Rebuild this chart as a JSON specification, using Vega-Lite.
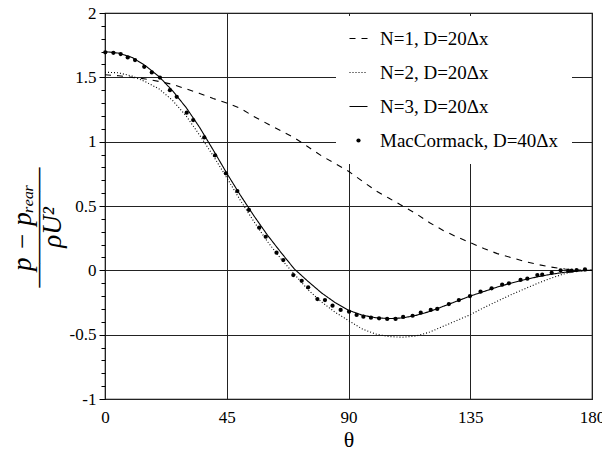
{
  "$schema": "https://vega.github.io/schema/vega-lite/v6.json",
  "width": 487,
  "height": 386,
  "autosize": "none",
  "padding": {"left": 105, "top": 13, "right": 10, "bottom": 59},
  "background": "white",
  "config": {"view": {"stroke": "black", "strokeWidth": 1.2}, "font": "Liberation Serif"},
  "datasets": {
    "curves": [
      {"theta": 0, "p": 1.52, "series": "N=1, D=20Δx"},
      {"theta": 5, "p": 1.512, "series": "N=1, D=20Δx"},
      {"theta": 10, "p": 1.5, "series": "N=1, D=20Δx"},
      {"theta": 15, "p": 1.487, "series": "N=1, D=20Δx"},
      {"theta": 20, "p": 1.468, "series": "N=1, D=20Δx"},
      {"theta": 25, "p": 1.445, "series": "N=1, D=20Δx"},
      {"theta": 30, "p": 1.41, "series": "N=1, D=20Δx"},
      {"theta": 35, "p": 1.375, "series": "N=1, D=20Δx"},
      {"theta": 40, "p": 1.335, "series": "N=1, D=20Δx"},
      {"theta": 45, "p": 1.3, "series": "N=1, D=20Δx"},
      {"theta": 50, "p": 1.26, "series": "N=1, D=20Δx"},
      {"theta": 55, "p": 1.195, "series": "N=1, D=20Δx"},
      {"theta": 60, "p": 1.14, "series": "N=1, D=20Δx"},
      {"theta": 65, "p": 1.085, "series": "N=1, D=20Δx"},
      {"theta": 70, "p": 1.03, "series": "N=1, D=20Δx"},
      {"theta": 75, "p": 0.96, "series": "N=1, D=20Δx"},
      {"theta": 80, "p": 0.89, "series": "N=1, D=20Δx"},
      {"theta": 85, "p": 0.83, "series": "N=1, D=20Δx"},
      {"theta": 90, "p": 0.77, "series": "N=1, D=20Δx"},
      {"theta": 95, "p": 0.695, "series": "N=1, D=20Δx"},
      {"theta": 100, "p": 0.62, "series": "N=1, D=20Δx"},
      {"theta": 105, "p": 0.56, "series": "N=1, D=20Δx"},
      {"theta": 110, "p": 0.5, "series": "N=1, D=20Δx"},
      {"theta": 115, "p": 0.44, "series": "N=1, D=20Δx"},
      {"theta": 120, "p": 0.37, "series": "N=1, D=20Δx"},
      {"theta": 125, "p": 0.31, "series": "N=1, D=20Δx"},
      {"theta": 130, "p": 0.26, "series": "N=1, D=20Δx"},
      {"theta": 135, "p": 0.215, "series": "N=1, D=20Δx"},
      {"theta": 140, "p": 0.17, "series": "N=1, D=20Δx"},
      {"theta": 145, "p": 0.13, "series": "N=1, D=20Δx"},
      {"theta": 150, "p": 0.1, "series": "N=1, D=20Δx"},
      {"theta": 155, "p": 0.07, "series": "N=1, D=20Δx"},
      {"theta": 160, "p": 0.045, "series": "N=1, D=20Δx"},
      {"theta": 165, "p": 0.025, "series": "N=1, D=20Δx"},
      {"theta": 170, "p": 0.01, "series": "N=1, D=20Δx"},
      {"theta": 175, "p": 0.003, "series": "N=1, D=20Δx"},
      {"theta": 180, "p": 0, "series": "N=1, D=20Δx"},
      {"theta": 0, "p": 1.54, "series": "N=2, D=20Δx"},
      {"theta": 5, "p": 1.535, "series": "N=2, D=20Δx"},
      {"theta": 10, "p": 1.51, "series": "N=2, D=20Δx"},
      {"theta": 15, "p": 1.465, "series": "N=2, D=20Δx"},
      {"theta": 20, "p": 1.41, "series": "N=2, D=20Δx"},
      {"theta": 25, "p": 1.32, "series": "N=2, D=20Δx"},
      {"theta": 30, "p": 1.2, "series": "N=2, D=20Δx"},
      {"theta": 35, "p": 1.05, "series": "N=2, D=20Δx"},
      {"theta": 40, "p": 0.89, "series": "N=2, D=20Δx"},
      {"theta": 45, "p": 0.72, "series": "N=2, D=20Δx"},
      {"theta": 50, "p": 0.545, "series": "N=2, D=20Δx"},
      {"theta": 55, "p": 0.38, "series": "N=2, D=20Δx"},
      {"theta": 60, "p": 0.225, "series": "N=2, D=20Δx"},
      {"theta": 65, "p": 0.09, "series": "N=2, D=20Δx"},
      {"theta": 70, "p": -0.03, "series": "N=2, D=20Δx"},
      {"theta": 75, "p": -0.15, "series": "N=2, D=20Δx"},
      {"theta": 80, "p": -0.245, "series": "N=2, D=20Δx"},
      {"theta": 85, "p": -0.325, "series": "N=2, D=20Δx"},
      {"theta": 90, "p": -0.39, "series": "N=2, D=20Δx"},
      {"theta": 95, "p": -0.455, "series": "N=2, D=20Δx"},
      {"theta": 100, "p": -0.495, "series": "N=2, D=20Δx"},
      {"theta": 105, "p": -0.515, "series": "N=2, D=20Δx"},
      {"theta": 110, "p": -0.52, "series": "N=2, D=20Δx"},
      {"theta": 115, "p": -0.51, "series": "N=2, D=20Δx"},
      {"theta": 120, "p": -0.48, "series": "N=2, D=20Δx"},
      {"theta": 125, "p": -0.435, "series": "N=2, D=20Δx"},
      {"theta": 130, "p": -0.39, "series": "N=2, D=20Δx"},
      {"theta": 135, "p": -0.345, "series": "N=2, D=20Δx"},
      {"theta": 140, "p": -0.29, "series": "N=2, D=20Δx"},
      {"theta": 145, "p": -0.24, "series": "N=2, D=20Δx"},
      {"theta": 150, "p": -0.19, "series": "N=2, D=20Δx"},
      {"theta": 155, "p": -0.145, "series": "N=2, D=20Δx"},
      {"theta": 160, "p": -0.1, "series": "N=2, D=20Δx"},
      {"theta": 165, "p": -0.06, "series": "N=2, D=20Δx"},
      {"theta": 170, "p": -0.025, "series": "N=2, D=20Δx"},
      {"theta": 175, "p": -0.005, "series": "N=2, D=20Δx"},
      {"theta": 180, "p": 0, "series": "N=2, D=20Δx"},
      {"theta": 0, "p": 1.7, "series": "N=3, D=20Δx"},
      {"theta": 5, "p": 1.688, "series": "N=3, D=20Δx"},
      {"theta": 10, "p": 1.655, "series": "N=3, D=20Δx"},
      {"theta": 15, "p": 1.59, "series": "N=3, D=20Δx"},
      {"theta": 20, "p": 1.505, "series": "N=3, D=20Δx"},
      {"theta": 25, "p": 1.395, "series": "N=3, D=20Δx"},
      {"theta": 30, "p": 1.265, "series": "N=3, D=20Δx"},
      {"theta": 35, "p": 1.11, "series": "N=3, D=20Δx"},
      {"theta": 40, "p": 0.935, "series": "N=3, D=20Δx"},
      {"theta": 45, "p": 0.755, "series": "N=3, D=20Δx"},
      {"theta": 50, "p": 0.585, "series": "N=3, D=20Δx"},
      {"theta": 55, "p": 0.425, "series": "N=3, D=20Δx"},
      {"theta": 60, "p": 0.275, "series": "N=3, D=20Δx"},
      {"theta": 65, "p": 0.14, "series": "N=3, D=20Δx"},
      {"theta": 70, "p": 0.01, "series": "N=3, D=20Δx"},
      {"theta": 75, "p": -0.085, "series": "N=3, D=20Δx"},
      {"theta": 80, "p": -0.175, "series": "N=3, D=20Δx"},
      {"theta": 85, "p": -0.25, "series": "N=3, D=20Δx"},
      {"theta": 90, "p": -0.31, "series": "N=3, D=20Δx"},
      {"theta": 95, "p": -0.348, "series": "N=3, D=20Δx"},
      {"theta": 100, "p": -0.368, "series": "N=3, D=20Δx"},
      {"theta": 105, "p": -0.375, "series": "N=3, D=20Δx"},
      {"theta": 110, "p": -0.37, "series": "N=3, D=20Δx"},
      {"theta": 115, "p": -0.35, "series": "N=3, D=20Δx"},
      {"theta": 120, "p": -0.32, "series": "N=3, D=20Δx"},
      {"theta": 125, "p": -0.28, "series": "N=3, D=20Δx"},
      {"theta": 130, "p": -0.24, "series": "N=3, D=20Δx"},
      {"theta": 135, "p": -0.2, "series": "N=3, D=20Δx"},
      {"theta": 140, "p": -0.165, "series": "N=3, D=20Δx"},
      {"theta": 145, "p": -0.13, "series": "N=3, D=20Δx"},
      {"theta": 150, "p": -0.1, "series": "N=3, D=20Δx"},
      {"theta": 155, "p": -0.073, "series": "N=3, D=20Δx"},
      {"theta": 160, "p": -0.05, "series": "N=3, D=20Δx"},
      {"theta": 165, "p": -0.03, "series": "N=3, D=20Δx"},
      {"theta": 170, "p": -0.015, "series": "N=3, D=20Δx"},
      {"theta": 175, "p": -0.005, "series": "N=3, D=20Δx"},
      {"theta": 180, "p": 0, "series": "N=3, D=20Δx"}
    ],
    "mac": [
      {"theta": 0.1, "p": 1.694}, {"theta": 3.1, "p": 1.691}, {"theta": 5.8, "p": 1.681},
      {"theta": 8.4, "p": 1.655}, {"theta": 11.1, "p": 1.634}, {"theta": 14.5, "p": 1.582},
      {"theta": 17.3, "p": 1.538}, {"theta": 20.3, "p": 1.498}, {"theta": 24.0, "p": 1.4},
      {"theta": 26.5, "p": 1.349}, {"theta": 30.2, "p": 1.225}, {"theta": 32.6, "p": 1.168},
      {"theta": 36.7, "p": 1.033}, {"theta": 40.7, "p": 0.894}, {"theta": 44.7, "p": 0.754},
      {"theta": 48.9, "p": 0.616}, {"theta": 53.2, "p": 0.469}, {"theta": 57.0, "p": 0.331},
      {"theta": 59.4, "p": 0.261}, {"theta": 63.4, "p": 0.137}, {"theta": 65.9, "p": 0.08},
      {"theta": 69.6, "p": -0.037}, {"theta": 72.7, "p": -0.081}, {"theta": 75.1, "p": -0.132},
      {"theta": 78.5, "p": -0.223}, {"theta": 81.3, "p": -0.231}, {"theta": 84.1, "p": -0.275},
      {"theta": 87.1, "p": -0.308}, {"theta": 90.2, "p": -0.321}, {"theta": 93.0, "p": -0.347},
      {"theta": 95.5, "p": -0.36}, {"theta": 98.3, "p": -0.368}, {"theta": 101.3, "p": -0.373},
      {"theta": 104.3, "p": -0.378}, {"theta": 107.4, "p": -0.378}, {"theta": 110.2, "p": -0.362},
      {"theta": 113.7, "p": -0.353}, {"theta": 116.7, "p": -0.329}, {"theta": 120.4, "p": -0.308},
      {"theta": 122.8, "p": -0.3}, {"theta": 127.1, "p": -0.262}, {"theta": 130.8, "p": -0.231},
      {"theta": 134.9, "p": -0.2}, {"theta": 138.8, "p": -0.166}, {"theta": 142.9, "p": -0.14},
      {"theta": 146.8, "p": -0.112}, {"theta": 149.3, "p": -0.101}, {"theta": 153.6, "p": -0.075},
      {"theta": 156.1, "p": -0.065}, {"theta": 159.8, "p": -0.037}, {"theta": 161.6, "p": -0.034},
      {"theta": 165.1, "p": -0.019}, {"theta": 168.4, "p": 0.0}, {"theta": 171.2, "p": -0.005},
      {"theta": 172.5, "p": -0.003}, {"theta": 174.3, "p": 0.002}, {"theta": 177.4, "p": 0.008}
    ]
  },
  "resolve": {"axis": {"y": "independent"}},
  "layer": [
    {
      "data": {"name": "curves"},
      "mark": {"type": "line", "color": "black", "strokeWidth": 1.1},
      "encoding": {
        "x": {
          "field": "theta", "type": "quantitative",
          "scale": {"domain": [0, 180], "nice": false, "zero": false},
          "axis": {
            "values": [0, 45, 90, 135, 180],
            "grid": true, "gridColor": "#222", "gridWidth": 1,
            "ticks": false, "domain": false,
            "labelFont": "Liberation Serif", "labelFontSize": 17, "labelColor": "black",
            "labelPadding": 10, "labelFlush": false, "labelBound": false, "labelOverlap": false,
            "format": "d",
            "title": "θ", "titleFont": "Liberation Serif", "titleFontSize": 22,
            "titleFontWeight": "normal", "titleColor": "black", "titlePadding": 4
          }
        },
        "y": {
          "field": "p", "type": "quantitative",
          "scale": {"domain": [-1, 2], "nice": false, "zero": false},
          "axis": {
            "orient": "left",
            "values": [-1, -0.5, 0, 0.5, 1, 1.5, 2],
            "grid": true, "gridColor": "#222", "gridWidth": 1,
            "tickSize": 6, "tickColor": "black", "tickWidth": 1, "domain": false,
            "labelExpr": "'' + datum.value",
            "labelFont": "Liberation Serif", "labelFontSize": 17, "labelColor": "black",
            "labelPadding": 3, "labelFlush": false, "labelBound": false, "labelOverlap": false,
            "title": ["p − pᵣₑₐᵣ", "—————", "ρU²"],
            "titleFont": "Liberation Serif", "titleFontSize": 27, "titleFontStyle": "italic",
            "titleFontWeight": "normal", "titleColor": "black", "titleLineHeight": 15,
            "titlePadding": 3, "titleY": 214
          }
        },
        "strokeDash": {
          "field": "series", "type": "nominal",
          "scale": {
            "domain": ["N=1, D=20Δx", "N=2, D=20Δx", "N=3, D=20Δx", "MacCormack, D=40Δx"],
            "range": [[6, 6], [1, 2], [1, 0], [1, 0]]
          },
          "legend": {
            "orient": "none", "legendX": 231, "legendY": 3, "zindex": 2,
            "title": null, "fillColor": "white", "padding": 13, "rowPadding": 14,
            "symbolType": "stroke", "symbolSize": 324, "symbolStrokeColor": "black",
            "symbolStrokeWidth": 1.1, "labelFont": "Liberation Serif", "labelFontSize": 19,
            "labelColor": "black", "labelOffset": 12, "labelLimit": 400,
            "encode": {
              "legend": {"update": {"fill": {"value": "white"}}},
              "symbols": {
                "update": {
                  "shape": {"signal": "datum.value === 'MacCormack, D=40Δx' ? 'circle' : 'stroke'"},
                  "size": {"signal": "datum.value === 'MacCormack, D=40Δx' ? 18 : 324"},
                  "fill": {"signal": "datum.value === 'MacCormack, D=40Δx' ? 'black' : 'transparent'"},
                  "stroke": {"value": "black"},
                  "strokeWidth": {"signal": "datum.value === 'MacCormack, D=40Δx' ? 0 : 1.1"},
                  "strokeDash": {"scale": "strokeDash", "field": "value"},
                  "opacity": {"value": 1}
                }
              }
            }
          }
        }
      }
    },
    {
      "data": {"name": "mac"},
      "mark": {"type": "point", "filled": true, "color": "black", "size": 18, "opacity": 1},
      "encoding": {
        "x": {"field": "theta", "type": "quantitative"},
        "y": {
          "field": "p", "type": "quantitative",
          "axis": {
            "orient": "left",
            "values": [-0.9, -0.8, -0.7, -0.6, -0.4, -0.3, -0.2, -0.1, 0.1, 0.2, 0.3, 0.4, 0.6, 0.7, 0.8, 0.9, 1.1, 1.2, 1.3, 1.4, 1.6, 1.7, 1.8, 1.9],
            "grid": false, "labels": false, "domain": false, "title": null,
            "tickSize": 4, "tickColor": "black", "tickWidth": 1
          }
        }
      }
    }
  ]
}
